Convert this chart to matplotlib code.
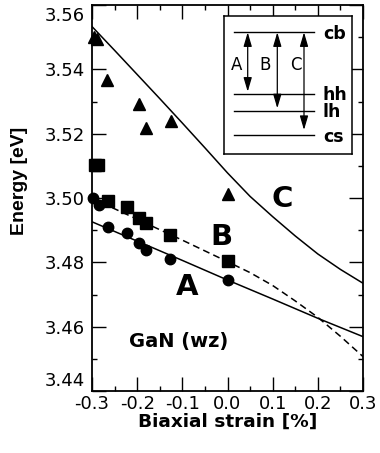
import numpy as np
import matplotlib.pyplot as plt
import matplotlib.transforms as mtransforms
from matplotlib.ticker import MultipleLocator, FormatStrFormatter

plt.rcParams['axes.unicode_minus'] = False

# medidas (pontos)
strain_tri = [-0.295, -0.288, -0.266, -0.196, -0.180, -0.126, 0.0]
energy_tri = [3.5500, 3.5493, 3.5367, 3.5292, 3.5218, 3.5240, 3.5012]

strain_sq = [-0.293, -0.286, -0.264, -0.223, -0.196, -0.180, -0.127, 0.0]
energy_sq = [3.5103, 3.5103, 3.4992, 3.4973, 3.4939, 3.4921, 3.4885, 3.4805]

strain_circ = [-0.297, -0.285, -0.265, -0.222, -0.196, -0.180, -0.127, 0.0]
energy_circ = [3.4999, 3.4978, 3.4909, 3.4890, 3.4859, 3.4838, 3.4810, 3.4745]

# curvas teoricas
strain_A = [-0.3, -0.2, -0.1, 0.0, 0.1, 0.2, 0.3]
energy_A = [3.4926, 3.4866, 3.4806, 3.4745, 3.4686, 3.4626, 3.4569]

strain_B = [-0.3, -0.2, -0.1, 0.0, 0.05, 0.1, 0.15, 0.2, 0.25, 0.3]
energy_B = [3.4999, 3.4934, 3.4869, 3.4802, 3.4768, 3.4728, 3.4680, 3.4629, 3.4570, 3.4507]

strain_C = [-0.30, -0.25, -0.20, -0.15, -0.10, -0.05, 0.00, 0.05, 0.10, 0.15, 0.20, 0.25, 0.30]
energy_C = [3.5533, 3.5459, 3.5384, 3.5309, 3.5233, 3.5156, 3.5078, 3.5005, 3.4942,
            3.4882, 3.4826, 3.4778, 3.4735]

# esquema de bandas (inset)
niveis = ['cb', 'hh', 'lh', 'cs']
niveis_y = [32.3, 94.0, 110.7, 135.0]
transicoes = ['A', 'B', 'C']
transicoes_x = [247.7, 277.3, 304.0]
transicoes_fim = [91.7, 108.3, 130.0]
letras_x = [236.7, 265.5, 295.5]

fig = plt.figure(figsize=(3.8, 4.53), dpi=100)
ax = fig.add_axes([92/380, 62/453, 271/380, 386/453])

ax.plot(strain_A, energy_A, color='black', lw=1.1)
ax.plot(strain_B, energy_B, color='black', lw=1.1, dashes=(4.5, 2.8))
ax.plot(strain_C, energy_C, color='black', lw=1.1)

ax.plot(strain_tri, energy_tri, '^', color='black', ms=8, clip_on=False)
ax.plot(strain_sq, energy_sq, 's', color='black', ms=8, clip_on=False)
ax.plot(strain_circ, energy_circ, 'o', color='black', ms=7.5, clip_on=False)

ax.text(0.1217, 3.4973, 'C', fontsize=21, fontweight='bold', ha='center', va='baseline')
ax.text(-0.0129, 3.4854, 'B', fontsize=21, fontweight='bold', ha='center', va='baseline')
ax.text(-0.0886, 3.4699, 'A', fontsize=21, fontweight='bold', ha='center', va='baseline')
ax.text(-0.1074, 3.4538, 'GaN (wz)', fontsize=14, fontweight='bold', ha='center', va='baseline')

ax.set_xlim(-0.3, 0.3)
ax.set_ylim(3.44, 3.56)
ax.xaxis.set_major_locator(MultipleLocator(0.1))
ax.xaxis.set_minor_locator(MultipleLocator(0.05))
ax.yaxis.set_major_locator(MultipleLocator(0.02))
ax.yaxis.set_minor_locator(MultipleLocator(0.01))
ax.xaxis.set_major_formatter(FormatStrFormatter('%.1f'))
ax.yaxis.set_major_formatter(FormatStrFormatter('%.2f'))
ax.tick_params(which='both', direction='in', top=True, right=True, width=1.0, labelsize=13)
ax.tick_params(which='major', length=10)
ax.tick_params(which='minor', length=3.5)
ax.tick_params(axis='x', pad=3)
ax.tick_params(axis='y', pad=5)
for s in ax.spines.values():
    s.set_linewidth(1.3)

ax.set_xlabel('Biaxial strain [%]', fontsize=13.3, fontweight='bold', labelpad=0)
ax.set_ylabel('Energy [eV]', fontsize=14, fontweight='bold', family='Liberation Sans')
ax.yaxis.set_label_coords(-0.269, 0.544)
ax.yaxis.label.set_va('center')

# rotulos das pontas do eixo y puxados para dentro
ax.set_yticks(np.arange(3.44, 3.5601, 0.02))
ticks = ax.yaxis.get_major_ticks()
ticks[0].label1.set_transform(ticks[0].label1.get_transform() +
                              mtransforms.ScaledTranslation(0, 0.12, fig.dpi_scale_trans))
ticks[-1].label1.set_transform(ticks[-1].label1.get_transform() +
                               mtransforms.ScaledTranslation(0, -0.09, fig.dpi_scale_trans))

# inset
ins = fig.add_axes([224/380, (453-154.3)/453, 128.3/380, 138.6/453])
ins.set_xlim(224, 352.3)
ins.set_ylim(154.3, 15.7)
ins.set_xticks([])
ins.set_yticks([])
for s in ins.spines.values():
    s.set_linewidth(1.1)

for nome, y in zip(niveis, niveis_y):
    ins.plot([234, 314], [y, y], color='black', lw=1.0)
    ins.text(323, y + 6.5, nome, fontsize=12.5, fontweight='bold', ha='left', va='baseline')

for t, x, y2, xl in zip(transicoes, transicoes_x, transicoes_fim, letras_x):
    ins.annotate('', xy=(x, y2), xytext=(x, niveis_y[0]),
                 arrowprops=dict(arrowstyle='<|-|>,head_length=0.85,head_width=0.25',
                                 color='black', lw=0.9, shrinkA=0, shrinkB=0,
                                 mutation_scale=10))
    ins.text(xl, 70, t, fontsize=12, ha='center', va='baseline')

fig.savefig('out.png', dpi=100)
